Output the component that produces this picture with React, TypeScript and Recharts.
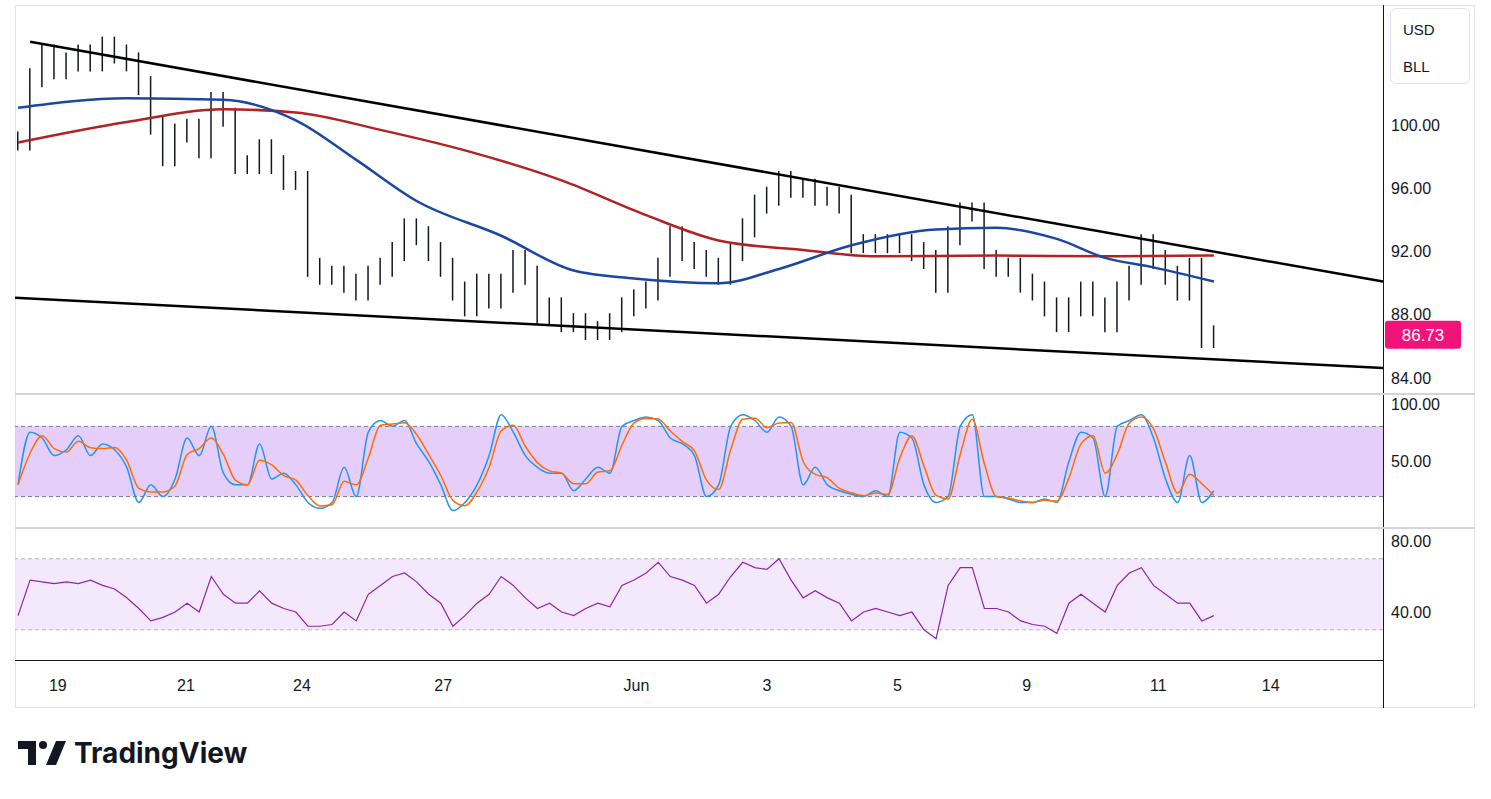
import {
  Bar,
  ComposedChart,
  Line,
  ReferenceArea,
  ReferenceLine,
  XAxis,
  YAxis,
} from "recharts";

const closes = [
  99, 103, 104.5, 103.5, 104, 104.5, 104, 105, 104.5, 104,
  102.5, 100, 98, 99.5, 99.8, 98.5, 101.5, 100.5, 97.5, 97.5,
  98.5, 97.5, 96.5, 96.5, 91, 90.5, 90.5, 90, 89.5, 90.5,
  91, 92, 93.5, 93, 92, 91, 89.5, 88.5, 90, 89,
  90, 91.5, 90.5, 88, 88.5, 87.5, 87.5, 87, 87, 87.5,
  88.5, 89, 89.5, 91, 93, 92, 91.5, 91, 90.5, 92,
  93.5, 95, 95.5, 96.5, 96, 96, 95.5, 95.5, 95, 92.5,
  92.5, 92.5, 92.5, 92.5, 92, 91.5, 90, 93, 94.5, 94.5,
  91.5, 91, 91, 90, 89.5, 88.5, 87.5, 88.5, 89.5, 88.5,
  87.5, 89.5, 90.5, 92.5, 91.5, 90.5, 89.5, 91, 86.5, 86.73,
];

const blueMa: [number, number][] = [
  [0, 101.1], [9, 101.7], [17, 101.6], [23, 100.3], [28, 97.8], [33, 95.2],
  [40, 93], [46, 90.8], [51, 90.3], [58, 90], [63, 90.9], [69, 92.4],
  [76, 93.4], [81, 93.5], [86, 92.8], [90, 91.6], [94, 91], [99, 90.1],
];
const redMa: [number, number][] = [
  [0, 98.9], [9, 100.2], [17, 101], [23, 100.8], [30, 99.7], [37, 98.4],
  [45, 96.5], [52, 94.3], [58, 92.7], [65, 92.1], [71, 91.7], [81, 91.75],
  [90, 91.7], [99, 91.75],
];

const stochK = [
  30, 75, 70, 55, 60, 72, 55, 65, 60, 45,
  15, 30, 20, 35, 70, 55, 80, 40, 30, 30,
  65, 35, 40, 30, 15, 10, 15, 45, 20, 75,
  85, 80, 85, 65, 50, 30, 8, 15, 30, 55,
  90, 75, 55, 45, 40, 40, 25, 35, 45, 40,
  80, 85, 88, 85, 70, 65, 55, 20, 30, 80,
  90, 85, 75, 88, 80, 30, 45, 30, 25, 22,
  20, 25, 20, 75, 70, 30, 15, 20, 80, 90,
  20, 20, 18, 15, 15, 18, 15, 50, 75, 70,
  20, 80, 85, 90, 70, 35, 15, 55, 15, 25,
];

const rsi = [
  38, 58, 57, 56, 57, 56, 58, 55, 53, 48,
  42, 35, 37, 40, 45, 40, 60, 50, 45, 45,
  52, 45, 42, 40, 32, 32, 33, 40, 35, 50,
  55, 60, 62, 57, 50, 45, 32, 38, 45, 50,
  60, 55, 48, 42, 45, 40, 38, 42, 45, 43,
  55, 58, 62, 68, 60, 58, 55, 45, 50, 60,
  68, 65, 64, 70, 58, 48, 52, 48, 45, 35,
  40, 42, 40, 38, 40, 30, 25, 55, 65, 65,
  42, 42, 40, 35, 33, 32, 28, 45, 50, 45,
  40, 55, 62, 65, 55, 50, 45, 45, 35, 38,
];

const dateTicks = [3.3, 13.9, 23.5, 35.2, 51.2, 62, 72.8, 83.5, 94.4, 103.7];
const dateLabels = ["19", "21", "24", "27", "Jun", "3", "5", "9", "11", "14"];

const data = closes.map((c, i) => {
  const prev = i > 0 ? closes[i - 1] : c;
  const lo = Math.min(prev, c) - 0.6;
  const hi = Math.max(prev, c) + 0.6;
  const b = blueMa.find((p) => p[0] === i);
  const r = redMa.find((p) => p[0] === i);
  return {
    i,
    hl: [lo, hi],
    blue: b ? b[1] : null,
    red: r ? r[1] : null,
    k: stochK[i],
    d: i > 0 ? 0.6 * stochK[i] + 0.4 * stochK[i - 1] : stochK[i],
    rsi: rsi[i],
  };
});

const W = 1460;
const AX = 92;
const DOMAIN: [number, number] = [-0.25, 113];
const font = { fontSize: 16, fill: "#131722", fontFamily: "Liberation Sans, Arial" };
const fmt = (v: number) => v.toFixed(2);

const Badge = (props: any) => {
  const { viewBox } = props;
  const x = viewBox.x + viewBox.width + 2;
  return (
    <g>
      <rect x={x} y={viewBox.y - 14} width={76} height={28} rx={3} fill="#f2137a" />
      <text x={x + 38} y={viewBox.y + 6} textAnchor="middle" fill="#fff" fontSize={17} fontFamily="Liberation Sans, Arial">
        86.73
      </text>
    </g>
  );
};

export default function App() {
  return (
    <div style={{ position: "absolute", left: 0, top: 0, width: 1491, height: 799, background: "#fff" }}>
      <div style={{ position: "absolute", left: 15, top: 5, width: W, height: 703, border: "1px solid #e0e3eb", boxSizing: "border-box" }} />
      <div style={{ position: "absolute", left: 1383, top: 5, width: 1, height: 703, background: "#131722" }} />
      <div style={{ position: "absolute", left: 15, top: 393, width: W, height: 2, background: "#d1d4dc" }} />
      <div style={{ position: "absolute", left: 15, top: 527, width: W, height: 2, background: "#d1d4dc" }} />
      <div style={{ position: "absolute", left: 15, top: 660, width: 1368, height: 1, background: "#131722" }} />

      <div style={{ position: "absolute", left: 15, top: 5 }}>
        <ComposedChart width={W} height={388} data={data} margin={{ top: 0, right: 0, bottom: 0, left: 0 }}>
          <XAxis dataKey="i" type="number" domain={DOMAIN} hide allowDataOverflow />
          <YAxis orientation="right" width={AX} domain={[83.05, 107.6]} ticks={[84, 88, 92, 96, 100]} tickFormatter={fmt} tick={font} axisLine={false} tickLine={false} allowDataOverflow />
          <Bar dataKey="hl" barSize={1.5} fill="#131722" isAnimationActive={false} />
          <Line dataKey="red" type="monotone" stroke="#b22222" strokeWidth={2.5} dot={false} connectNulls isAnimationActive={false} />
          <Line dataKey="blue" type="monotone" stroke="#1c47a1" strokeWidth={2.5} dot={false} connectNulls isAnimationActive={false} />
          <ReferenceLine segment={[{ x: 1, y: 105.27 }, { x: 113, y: 90.1 }]} stroke="#000" strokeWidth={2.5} ifOverflow="visible" />
          <ReferenceLine segment={[{ x: -0.25, y: 89.08 }, { x: 113, y: 84.63 }]} stroke="#000" strokeWidth={2.5} ifOverflow="visible" />
          <ReferenceLine y={86.73} stroke="none" label={<Badge />} />
        </ComposedChart>
      </div>

      <div style={{ position: "absolute", left: 15, top: 395 }}>
        <ComposedChart width={W} height={132} data={data} margin={{ top: 0, right: 0, bottom: 0, left: 0 }}>
          <XAxis dataKey="i" type="number" domain={DOMAIN} hide allowDataOverflow />
          <YAxis orientation="right" width={AX} domain={[-6, 106.8]} ticks={[0, 50, 100]} tickFormatter={fmt} tick={font} axisLine={false} tickLine={false} />
          <ReferenceArea y1={20} y2={80} fill="#dcbdf7" fillOpacity={0.75} stroke="none" />
          <ReferenceLine y={80} stroke="#787b86" strokeDasharray="4 3" />
          <ReferenceLine y={20} stroke="#787b86" strokeDasharray="4 3" />
          <Line dataKey="k" type="monotone" stroke="#2196f3" strokeWidth={1.5} dot={false} isAnimationActive={false} />
          <Line dataKey="d" type="monotone" stroke="#ff6d00" strokeWidth={1.5} dot={false} isAnimationActive={false} />
        </ComposedChart>
      </div>

      <div style={{ position: "absolute", left: 15, top: 530 }}>
        <ComposedChart width={W} height={178} data={data} margin={{ top: 0, right: 0, bottom: 0, left: 0 }}>
          <XAxis dataKey="i" type="number" domain={DOMAIN} ticks={dateTicks} tickFormatter={(v: number) => dateLabels[dateTicks.indexOf(v)]} tick={font} height={48} axisLine={false} tickLine={false} tickMargin={14} allowDataOverflow />
          <YAxis orientation="right" width={AX} domain={[13, 86.2]} ticks={[40, 80]} tickFormatter={fmt} tick={font} axisLine={false} tickLine={false} />
          <ReferenceArea y1={30} y2={70} fill="#f3e5fc" fillOpacity={0.9} stroke="none" />
          <ReferenceLine y={70} stroke="#b2b5be" strokeDasharray="4 3" />
          <ReferenceLine y={30} stroke="#b2b5be" strokeDasharray="4 3" />
          <Line dataKey="rsi" type="linear" stroke="#8e24aa" strokeWidth={1.2} dot={false} isAnimationActive={false} />
        </ComposedChart>
      </div>

      <div style={{ position: "absolute", left: 1390, top: 8, width: 78, height: 74, border: "1px solid #e0e3eb", borderRadius: 6, fontFamily: "Liberation Sans, Arial", fontSize: 15, color: "#131722" }}>
        <div style={{ position: "absolute", left: 12, top: 12 }}>USD</div>
        <div style={{ position: "absolute", left: 12, top: 49 }}>BLL</div>
      </div>

      <div style={{ position: "absolute", left: 18, top: 736, display: "flex", alignItems: "center", fontFamily: "Inter, Roboto, Arial", fontWeight: 700, fontSize: 28, color: "#131722" }}>
        <svg width={48} height={24} viewBox="0 0 48 24" style={{ marginRight: 8 }}>
          <path d="M0 0h18v24h-8V8H0z" fill="#131722" />
          <circle cx={25} cy={4} r={4} fill="#131722" />
          <path d="M38 0h10L38 24H28z" fill="#131722" />
        </svg>
        TradingView
      </div>
    </div>
  );
}
